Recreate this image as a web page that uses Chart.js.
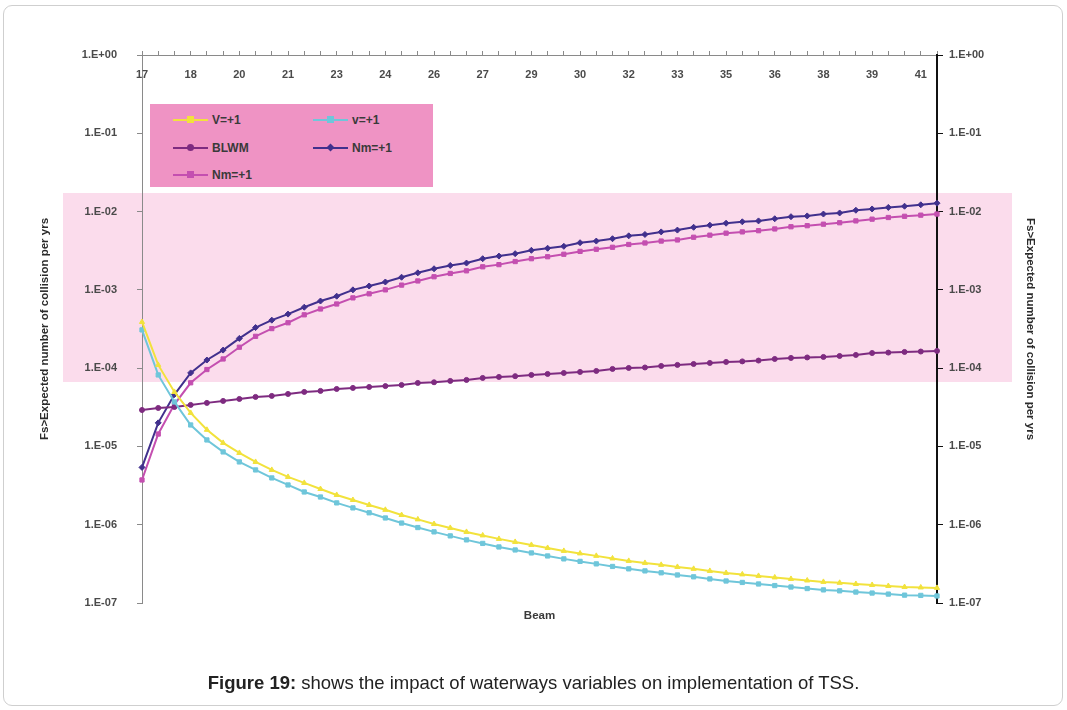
<!DOCTYPE html>
<html>
<head>
<meta charset="utf-8">
<script src="https://cdn.jsdelivr.net/npm/chart.js@4"></script>
<style>
  html, body { margin: 0; padding: 0; background: #fff; }
  #wrap { position: relative; width: 1067px; height: 710px; background: #fff; overflow: hidden; font-family: "Liberation Sans", Arial, sans-serif; }
  #frame { position: absolute; left: 3px; top: 5px; width: 1058px; height: 699px; border: 1px solid #cfcfcf; border-radius: 9px; }
  #band { position: absolute; left: 63px; top: 193px; width: 949px; height: 189px; background: #fbdcec; }
  #chart { position: absolute; left: 0; top: 0; }
  #legend { position: absolute; left: 150px; top: 104px; width: 283px; height: 83px; background: #ef93c4; }
  .item { position: absolute; height: 14px; font-size: 12px; font-weight: bold; color: #3a3a3a; line-height: 14px; }
  .sample { position: absolute; left: 0; top: 6px; width: 35px; height: 2px; }
  .mk { position: absolute; left: 14px; top: 3px; width: 7px; height: 7px; }
  .lbl { position: absolute; left: 39px; top: 0; white-space: nowrap; }
  #caption { position: absolute; left: 0; width: 1067px; top: 672px; text-align: center; font-size: 18.5px; color: #222; }
</style>
</head>
<body>
<div id="wrap">
  <div id="frame"></div>
  <div id="band"></div>
  <canvas id="chart" width="1067" height="710"></canvas>
  <div id="legend"></div>
  <div id="caption"><b>Figure 19:</b> shows the impact of waterways variables on implementation of TSS.</div>
</div>
<script>
// ---- data ----
const categories = [17,17.5,18,18.5,19,19.5,20,20.5,21,21.5,22,22.5,23,23.5,24,24.5,25,25.5,26,26.5,27,27.5,28,28.5,29,29.5,30,30.5,31,31.5,32,32.5,33,33.5,34,34.5,35,35.5,36,36.5,37,37.5,38,38.5,39,39.5,40,40.5,41,41.5];
const tickLabels = ['17','18','20','21','23','24','26','27','29','30','32','33','35','36','38','39','41'];
const yTickExps = [0,-1,-2,-3,-4,-5,-6,-7];

const seriesNames = ['V=+1','v=+1','BLWM','Nm=+1','Nm=+1'];

const vUpper = [3.89e-4,1.10e-4,4.97e-5,2.68e-5,1.63e-5,1.11e-5,8.26e-6,6.34e-6,5.01e-6,4.08e-6,
  3.42e-6,2.86e-6,2.40e-6,2.07e-6,1.79e-6,1.55e-6,1.33e-6,1.17e-6,1.02e-6,9.10e-7,
  8.09e-7,7.30e-7,6.59e-7,6.03e-7,5.52e-7,5.05e-7,4.63e-7,4.30e-7,4.00e-7,3.71e-7,
  3.45e-7,3.25e-7,3.07e-7,2.89e-7,2.73e-7,2.57e-7,2.42e-7,2.32e-7,2.22e-7,2.12e-7,
  2.03e-7,1.94e-7,1.86e-7,1.81e-7,1.75e-7,1.70e-7,1.65e-7,1.60e-7,1.58e-7,1.56e-7];

const vLower = [3.08e-4,8.19e-5,3.70e-5,1.88e-5,1.21e-5,8.51e-6,6.34e-6,5.01e-6,3.96e-6,3.22e-6,
  2.62e-6,2.26e-6,1.90e-6,1.64e-6,1.42e-6,1.22e-6,1.05e-6,9.2e-7,8.1e-7,7.2e-7,
  6.4e-7,5.77e-7,5.2e-7,4.76e-7,4.36e-7,3.99e-7,3.66e-7,3.40e-7,3.16e-7,2.93e-7,
  2.73e-7,2.57e-7,2.43e-7,2.28e-7,2.16e-7,2.03e-7,1.91e-7,1.83e-7,1.75e-7,1.67e-7,
  1.60e-7,1.53e-7,1.47e-7,1.43e-7,1.38e-7,1.34e-7,1.30e-7,1.26e-7,1.25e-7,1.23e-7];

const blwm = [2.92e-5,3.10e-5,3.19e-5,3.39e-5,3.60e-5,3.81e-5,4.04e-5,4.29e-5,4.42e-5,4.68e-5,
  4.97e-5,5.12e-5,5.42e-5,5.59e-5,5.75e-5,5.90e-5,6.10e-5,6.47e-5,6.60e-5,6.87e-5,
  7.07e-5,7.50e-5,7.72e-5,7.90e-5,8.19e-5,8.43e-5,8.68e-5,8.94e-5,9.21e-5,9.77e-5,
  1.006e-4,1.02e-4,1.067e-4,1.10e-4,1.13e-4,1.165e-4,1.20e-4,1.22e-4,1.25e-4,1.31e-4,
  1.35e-4,1.37e-4,1.39e-4,1.43e-4,1.475e-4,1.56e-4,1.58e-4,1.61e-4,1.63e-4,1.66e-4];

const nmBlue = [5.4e-6,2.0e-5,4.6e-5,8.7e-5,1.27e-4,1.7e-4,2.4e-4,3.3e-4,4.1e-4,4.9e-4,
  6.0e-4,7.2e-4,8.3e-4,1.0e-3,1.12e-3,1.26e-3,1.45e-3,1.65e-3,1.86e-3,2.05e-3,
  2.2e-3,2.5e-3,2.7e-3,2.9e-3,3.2e-3,3.4e-3,3.6e-3,4.0e-3,4.2e-3,4.5e-3,
  4.9e-3,5.1e-3,5.5e-3,5.8e-3,6.3e-3,6.7e-3,7.1e-3,7.4e-3,7.6e-3,8.1e-3,
  8.6e-3,8.8e-3,9.3e-3,9.6e-3,1.04e-2,1.08e-2,1.13e-2,1.17e-2,1.22e-2,1.28e-2];

const nmPink = [3.73e-6,1.44e-5,3.45e-5,6.5e-5,9.6e-5,1.31e-4,1.85e-4,2.55e-4,3.2e-4,3.8e-4,
  4.8e-4,5.7e-4,6.6e-4,7.9e-4,8.9e-4,1.0e-3,1.15e-3,1.3e-3,1.47e-3,1.62e-3,
  1.75e-3,1.97e-3,2.1e-3,2.3e-3,2.5e-3,2.65e-3,2.85e-3,3.1e-3,3.3e-3,3.5e-3,
  3.8e-3,3.97e-3,4.2e-3,4.34e-3,4.7e-3,5.0e-3,5.3e-3,5.5e-3,5.7e-3,6.0e-3,
  6.4e-3,6.6e-3,6.9e-3,7.2e-3,7.6e-3,8.0e-3,8.4e-3,8.7e-3,9.0e-3,9.3e-3];

const seriesColors = ['#f2e23c','#6fc6da','#7e2b80','#41308d','#c44fb0'];
const seriesMarkers = ['triangle','rect','circle','rectRot','rect'];

// ---- chart ----
const fontFamily = '"Liberation Sans", Arial, sans-serif';
const tickFont = { family: fontFamily, size: 11, weight: 'bold' };
const titleFont = { family: fontFamily, size: 11.5, weight: 'bold' };
const tickColor = '#4a4a4a';
const axisTitle = 'Fs>Expected number of collision per yrs';

function expLabel(v) {
  const e = Math.round(Math.log10(v));
  const a = Math.abs(e);
  return '1.E' + (e >= 0 ? '+' : '-') + (a < 10 ? '0' : '') + a;
}
function keepDecades(scale) {
  scale.ticks = yTickExps.map(e => ({ value: Math.pow(10, e), major: true }));
}

// draws the top category labels just below the top axis line, positioned by the x scale
const topLabelsPlugin = {
  id: 'topLabels',
  afterDraw(chart) {
    const sx = chart.scales.x;
    const ctx = chart.ctx;
    ctx.save();
    ctx.font = 'bold 11px ' + fontFamily;
    ctx.fillStyle = tickColor;
    ctx.textAlign = 'center';
    ctx.textBaseline = 'middle';
    sx.ticks.forEach((t, i) => {
      if (i % 3 === 0) ctx.fillText(tickLabels[i / 3], sx.getPixelForTick(i), sx.bottom + 20);
    });
    ctx.restore();
  }
};

const allSeries = [vUpper, vLower, blwm, nmBlue, nmPink];
const datasets = allSeries.map((d, i) => ({
  label: seriesNames[i],
  data: d,
  borderColor: seriesColors[i],
  backgroundColor: seriesColors[i],
  borderWidth: 2,
  pointStyle: seriesMarkers[i],
  pointRadius: i === 2 ? 2.5 : 3,
  pointBorderWidth: 1,
  tension: 0,
  yAxisID: 'y'
}));

const chart = new Chart(document.getElementById('chart'), {
  type: 'line',
  data: { labels: categories, datasets: datasets },
  plugins: [topLabelsPlugin],
  options: {
    responsive: false,
    animation: false,
    layout: { padding: 0 },
    plugins: { legend: { display: false }, tooltip: { enabled: false }, title: { display: false } },
    scales: {
      x: {
        type: 'category',
        position: 'top',
        offset: false,
        afterFit: s => { s.height = 55; },
        grid: { display: true, drawOnChartArea: false, drawTicks: true, tickLength: 4, color: '#8a8a8a' },
        border: { display: true, color: '#8a8a8a', width: 1 },
        ticks: { autoSkip: false, maxRotation: 0, minRotation: 0, display: true, color: 'rgba(0,0,0,0)', callback: () => '' }
      },
      xb: {
        type: 'category',
        position: 'bottom',
        labels: categories,
        offset: false,
        afterFit: s => { s.height = 107; },
        grid: { display: false },
        border: { display: false },
        ticks: { display: false },
        title: { display: true, text: 'Beam', color: '#3a3a3a', font: titleFont, padding: { top: 0, bottom: 87 } }
      },
      y: {
        type: 'logarithmic',
        position: 'left',
        min: 1e-7, max: 1,
        afterBuildTicks: keepDecades,
        afterFit: s => { s.width = 142; },
        grid: { display: true, drawOnChartArea: false, drawTicks: true, tickLength: 5, color: '#8a8a8a' },
        border: { display: true, color: '#8a8a8a', width: 1 },
        ticks: { color: tickColor, font: tickFont, padding: 20, callback: v => expLabel(v) },
        title: { display: true, text: axisTitle, color: '#2a2a2a', font: titleFont, padding: { top: 38, bottom: 0 } }
      },
      y2: {
        type: 'logarithmic',
        position: 'right',
        min: 1e-7, max: 1,
        afterBuildTicks: keepDecades,
        afterFit: s => { s.width = 130; },
        grid: { display: true, drawOnChartArea: false, drawTicks: true, tickLength: 6, color: '#111' },
        border: { display: true, color: '#111', width: 2 },
        ticks: { color: tickColor, font: tickFont, padding: 6, callback: v => expLabel(v) },
        title: { display: true, text: axisTitle, color: '#2a2a2a', font: titleFont, padding: { top: 30, bottom: 0 } }
      }
    }
  }
});

// ---- legend (HTML, built from the chart's datasets) ----
const legendEl = document.getElementById('legend');
const legendPos = [[23, 9], [163, 9], [23, 37], [163, 37], [23, 64]];
chart.data.datasets.forEach((ds, i) => {
  const it = document.createElement('div');
  it.className = 'item';
  it.style.left = legendPos[i][0] + 'px';
  it.style.top = legendPos[i][1] + 'px';
  const line = document.createElement('div');
  line.className = 'sample';
  line.style.background = ds.borderColor;
  const mk = document.createElement('div');
  mk.className = 'mk';
  mk.style.background = ds.borderColor;
  if (ds.pointStyle === 'circle') mk.style.borderRadius = '50%';
  if (ds.pointStyle === 'rectRot') mk.style.transform = 'rotate(45deg) scale(0.8)';
  const lbl = document.createElement('div');
  lbl.className = 'lbl';
  lbl.textContent = ds.label;
  it.appendChild(line); it.appendChild(mk); it.appendChild(lbl);
  legendEl.appendChild(it);
});
</script>
</body>
</html>
